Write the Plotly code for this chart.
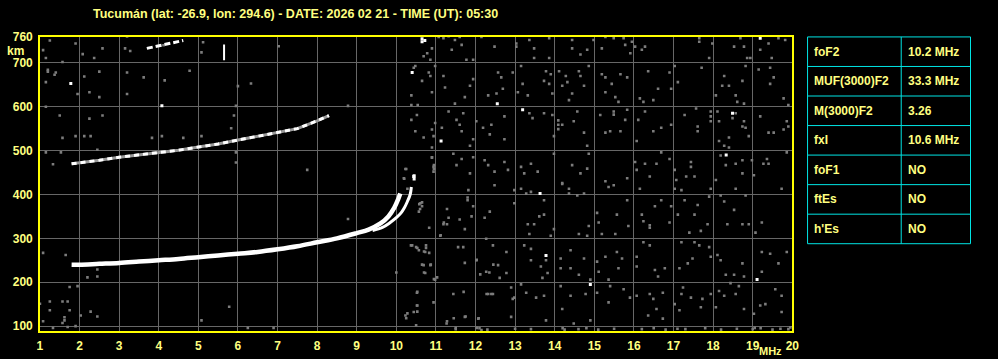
import plotly.graph_objects as go

W, H = 998, 359

title_text = "Tucumán (lat: -26.9, lon: 294.6) - DATE: 2026 02 21 - TIME (UT): 05:30"

x_ticks = list(range(1, 21))
y_ticks = [100, 200, 300, 400, 500, 600, 700, 760]

# O-mode F2 trace
f_o = [1.8, 2.0, 2.5, 3.0, 3.5, 4.0, 4.5, 5.0, 5.5, 6.0, 6.5, 7.0, 7.5, 8.0, 8.5, 9.0, 9.3, 9.6, 9.8, 9.95, 10.05, 10.1]
h_o = [240, 240, 242, 244, 247, 250, 253, 257, 261, 265, 269, 275, 282, 291, 300, 312, 320, 334, 350, 370, 390, 402]
# X-mode trace
f_x = [9.4, 9.65, 9.83, 10.0, 10.12, 10.2, 10.28, 10.35, 10.38]
h_x = [318, 325, 335, 347, 358, 369, 384, 400, 417]
f_x2 = [10.45, 10.45]
h_x2 = [432, 446]
# second hop
f_2 = [1.8, 2.0, 2.5, 3.0, 3.5, 4.0, 4.5, 5.0, 5.5, 6.0, 6.5, 7.0, 7.5, 8.0, 8.3]
h_2 = [470, 472, 478, 485, 490, 496, 501, 508, 515, 524, 533, 541, 550, 568, 580]
# third hop
f_3 = [3.7, 3.9, 4.1, 4.33, 4.62]
h_3 = [733, 737, 741, 745, 751]
# vertical echo
f_v = [5.65, 5.65]
h_v = [706, 742]

# scattered grey noise echoes (freq MHz, height km)
noise = [
    (10.9,733),(10.86,707),(10.69,715),(10.78,722),(11.07,759),(11.19,756),(11.32,761),(11.4,730),(11.48,752),(11.6,759),
    (11.65,741),(11.77,707),(11.94,707),(12.15,759),(12.48,737),(13.03,737),(13.03,744),(13.36,752),(13.48,733),(13.48,711),
    (13.86,756),(13.86,711),(14.44,752),(14.44,733),(14.65,719),(14.82,730),(14.98,752),(15.19,733),(15.28,759),(15.49,756),
    (15.74,756),(15.78,741),(15.91,722),(15.95,748),(16.03,737),(16.28,737),(16.2,730),(17.65,756),(17.65,748),(17.9,711),
    (17.98,744),(18.53,737),(18.69,756),(18.78,737),(18.86,711),(18.94,711),(19.19,730),(19.4,744),(19.48,711),(19.65,756),
    (19.82,752),
    (10.44,689),(10.48,693),(10.82,678),(10.86,670),(10.98,693),(10.65,659),(11.19,670),(11.23,644),(10.38,626),(10.54,604),
    (10.38,604),(10.9,633),(11.48,607),(11.73,622),(11.86,648),(11.94,663),(12.32,626),(12.53,630),(12.57,678),(12.65,667),
    (12.69,641),(12.94,678),(13.07,633),(13.19,652),(13.32,626),(13.15,693),(13.78,681),(13.9,674),(13.86,652),(13.73,659),
    (13.94,630),(14.11,681),(14.28,670),(14.32,656),(14.19,648),(14.44,630),(14.36,615),(14.65,670),(14.61,681),(14.74,648),
    (14.86,693),(15.19,674),(15.28,667),(15.44,652),(15.53,622),(15.66,674),(15.83,667),(15.28,633),(15.61,611),(16.15,619),
    (16.24,611),(16.36,681),(16.49,615),(16.61,641),(16.9,678),(16.94,641),(17.11,656),(17.03,693),(17.71,689),(18.07,626),
    (18.28,670),(18.23,648),(18.4,648),(18.57,626),(18.61,611),(18.74,659),(18.78,607),(18.82,693),(19.15,685),(19.44,689),
    (19.53,667),(19.44,652),(19.78,619),(19.9,604),
    (10.52,581),(10.38,570),(10.48,544),(10.69,530),(10.9,548),(10.94,533),(10.98,563),(11.15,552),(10.9,507),(11.32,589),
    (11.52,570),(11.6,559),(11.65,544),(11.69,585),(11.94,526),(11.86,511),(12.02,567),(12.19,552),(12.4,559),(12.36,537),
    (12.73,578),(12.73,526),(13.36,585),(13.44,574),(13.73,585),(13.94,581),(13.98,533),(14.09,549),(14.09,559),(14.09,569),
    (14.19,559),(14.48,567),(14.57,589),(14.74,541),(14.82,511),(15.15,581),(15.28,541),(15.4,544),(15.49,589),(15.49,582),
    (15.66,544),(15.78,570),(15.83,593),(16.07,522),(16.11,570),(16.28,589),(16.49,544),(16.69,552),(16.94,559),(17.28,581),
    (17.57,596),(17.61,555),(17.61,544),(17.94,589),(17.94,578),(17.94,567),(18.11,589),(18.15,567),(18.15,522),(18.28,511),
    (18.4,530),(18.4,507),(18.57,585),(18.49,574),(18.78,567),(18.74,555),(18.82,552),(18.9,533),(19.19,578),(19.4,541),
    (19.53,541),(19.78,548),(19.86,567),(19.9,555),
    (10.23,458),(10.19,437),(10.9,485),(10.94,463),(10.94,452),(11.44,493),(11.52,467),(11.65,481),(11.86,448),(11.94,485),
    (12.23,478),(12.32,467),(12.48,452),(12.73,474),(12.82,456),(13.15,463),(13.23,448),(13.57,452),(13.4,470),(13.98,493),
    (14.19,426),(14.44,467),(14.65,448),(14.82,459),(14.86,493),(15.28,430),(15.83,437),(16.03,474),(16.07,456),(16.28,470),
    (16.4,441),(16.57,470),(16.69,496),(16.9,481),(17.03,456),(17.07,433),(17.44,474),(17.44,463),(17.32,441),(17.53,441),
    (18.07,433),(18.19,489),(18.32,467),(18.57,470),(18.74,478),(18.74,448),(18.98,478),(19.03,444),(19.27,470),(19.4,470),
    (19.36,481),(19.86,496),
    (10.61,380),(10.65,373),(10.57,361),(11.82,410),(11.8,387),(11.8,393),(11.94,373),(11.9,350),(11.32,347),(11.19,332),
    (11.73,321),(11.6,343),(11.11,306),(12.27,299),(12.23,347),(12.36,361),(12.48,421),(12.98,410),(12.98,380),(13.15,413),
    (13.28,402),(13.4,406),(13.73,387),(13.73,354),(13.61,350),(13.32,332),(13.36,310),(13.48,332),(13.9,306),(13.98,321),
    (14.19,424),(14.36,413),(14.36,402),(14.57,398),(14.74,402),(14.61,310),(14.86,328),(14.82,306),(15.36,417),(15.49,421),
    (15.57,354),(15.07,358),(15.11,336),(15.19,310),(15.53,310),(15.86,328),(15.83,387),(16.15,413),(16.2,354),(16.24,339),
    (16.4,324),(16.4,330),(16.53,373),(16.69,387),(16.9,336),(16.94,373),(17.03,413),(17.2,410),(17.11,354),(17.28,387),
    (17.4,313),(17.53,354),(17.61,376),(17.69,317),(17.86,332),(17.9,395),(17.94,413),(18.19,398),(18.28,384),(18.36,332),
    (18.53,365),(18.57,413),(18.74,332),(18.82,398),(18.9,332),(19.07,313),(19.23,336),(19.73,413),
    (10.4,284),(10.57,273),(10.73,269),(10.86,239),(10.69,239),(10.73,221),(10.98,206),(11.56,280),(11.69,280),(11.73,244),
    (12.02,250),(12.27,224),(12.44,284),(12.57,239),(12.61,210),(12.78,269),(12.78,221),(13.23,284),(13.4,250),(13.4,276),
    (13.78,250),(13.65,236),(13.82,221),(13.69,210),(14.15,254),(14.15,232),(14.4,273),(14.4,232),(14.61,217),(14.74,254),
    (14.9,206),(15.07,247),(15.11,224),(15.28,258),(15.36,206),(15.57,269),(15.61,232),(15.7,254),(16.07,258),(16.07,236),
    (16.24,291),(16.4,284),(16.53,228),(16.78,232),(16.61,213),(17.15,232),(17.2,291),(17.48,254),(17.36,243),(17.53,291),
    (17.65,284),(17.9,280),(17.94,258),(18.11,262),(18.19,250),(18.32,217),(18.53,217),(18.74,243),(18.78,213),(19.23,269),
    (19.23,224),(19.44,265),(19.65,243),(19.86,269),
    (10.52,176),(10.52,147),(10.44,132),(10.23,124),(10.94,154),(11.27,106),(11.44,173),(11.73,121),(12.07,117),(12.32,173),
    (12.44,173),(12.9,188),(12.94,162),(12.9,121),(12.98,165),(13.15,195),(13.28,176),(13.53,165),(13.73,169),(13.78,113),
    (14.15,191),(14.19,139),(14.4,169),(14.48,106),(14.78,173),(14.9,113),(15.07,176),(15.4,191),(15.36,154),(15.74,184),
    (15.9,165),(16.07,169),(16.36,124),(16.4,173),(16.49,162),(16.57,139),(16.73,176),(16.73,117),(17.03,150),(17.15,136),
    (17.2,173),(17.24,188),(17.44,165),(17.69,143),(17.73,162),(17.94,173),(18.07,143),(18.15,180),(18.28,169),(18.44,198),
    (18.57,173),(18.65,191),(18.78,139),(19.03,128),(19.19,147),(19.32,150),(19.57,184),(19.73,169),(19.73,132),
    (11.5,93),(12.1,95),(12.3,92),(13.0,94),(13.4,93),(14.2,95),(14.25,92),(14.6,93),(14.8,95),(15.1,92),(15.5,94),
    (16.2,93),(16.5,95),(16.8,92),(17.1,94),(17.3,93),(17.8,95),(18.2,92),(18.6,94),(19.0,93),(19.05,96),(19.2,95),
    (19.5,92),(19.7,94),(19.9,93),(19.95,97),(12.15,91),(12.03,96),(11.45,118),(11.28,111),(11.5,96),(12.08,118),
    (1.25,751),(1.08,729),(1.15,711),(1.2,684),(1.2,680),(1.37,673),(1.15,656),(1.4,678),(1.57,702),(1.9,744),
    (2.08,720),(2.12,669),(2.25,633),(2.37,711),(2.5,680),(2.58,733),(2.5,622),(1.95,629),(3.2,760),(3.15,733),
    (3.28,727),(3.2,678),(3.2,629),(3.62,667),(4.15,660),(4.12,740),(4.78,682),(5.12,747),(5.08,724),(6.0,647),
    (6.33,653),(5.95,602),(7.03,738),(8.78,602),
    (1.15,600),(1.5,580),(2.25,573),(2.58,580),(1.9,533),(2.12,533),(2.28,533),(1.57,529),(3.83,529),(4.08,533),
    (4.62,529),(5.9,580),(5.83,551),(5.95,496),(5.95,473),(5.08,533),(1.15,496),(1.53,496),(2.45,502),(1.33,469),
    (7.75,456),
    (1.08,267),(1.65,262),(2.45,229),(2.45,213),(2.2,211),(1.75,189),(1.95,191),(2.28,133),(2.45,122),(1.25,156),
    (1.25,136),(1.57,156),(1.7,156),(1.75,136),(1.62,113),(1.57,107),(1.62,120),(1.33,96),(1.7,98),(1.9,100),(2.03,124),
    (1.08,111),(1.0,151),(5.08,113),(5.78,144),(6.25,96),(6.9,96),(10.0,222),(10.25,118),(10.28,129),(10.53,178),
    (10.53,147),(10.5,102),(10.53,133),(10.65,240),(10.7,222),(10.87,240),(10.95,207),(11.03,211),(10.83,267),
    (11.7,178),(11.75,122),(12.12,218),(12.03,251),(12.28,173),(12.4,173),(12.35,222),(12.45,240),
    (8.78,344),(10.25,458),(10.2,436),(10.28,413),(10.9,484),(10.95,467),(10.95,458),(10.58,378),(10.65,382),(10.6,367),
    (11.28,367),(11.2,336),(11.28,332),(10.83,324),(11.12,307),(10.37,284),(10.5,280),(10.53,278),(10.75,284),(10.75,278),
    (10.7,270),
]
noise_f = [p[0] for p in noise]
noise_h = [p[1] for p in noise]

# isolated white echoes
white_pts = [(10.65,748),(10.72,751),(10.4,678),(1.78,653),(4.08,602),(12.55,607),(13.19,593),(11.13,522),
             (10.44,441),(13.63,402),(13.78,261),(14.9,195),(19.11,206),(18.49,585),(18.33,490),(19.19,756),(10.65,755)]
white_f = [p[0] for p in white_pts]
white_h = [p[1] for p in white_pts]

table_labels = ["foF2", "MUF(3000)F2", "M(3000)F2", "fxI", "foF1", "ftEs", "h'Es"]
table_values = ["10.2 MHz", "33.3 MHz", "3.26", "10.6 MHz", "NO", "NO", "NO"]

YEL = "#ffff00"
TXT = "#ffff80"
GRID = "#676767"
NOISE = "#7c7c7c"
FONT = "Liberation Sans"

fig = go.Figure()
fig.add_trace(go.Scatter(x=noise_f, y=noise_h, mode="markers",
                         marker=dict(symbol="square", size=2.6, color=NOISE, line=dict(width=0)),
                         hoverinfo="skip"))
fig.add_trace(go.Scatter(x=white_f, y=white_h, mode="markers",
                         marker=dict(symbol="square", size=3, color="white", line=dict(width=0)),
                         hoverinfo="skip"))
fig.add_trace(go.Scatter(x=f_2, y=h_2, mode="lines", line=dict(color="#9a9a9a", width=3)))
fig.add_trace(go.Scatter(x=f_2, y=h_2, mode="lines", line=dict(color="white", width=3, dash="5px,4px")))
fig.add_trace(go.Scatter(x=f_3, y=h_3, mode="lines", line=dict(color="white", width=3, dash="6px,3px")))
fig.add_trace(go.Scatter(x=f_v, y=h_v, mode="lines", line=dict(color="white", width=2)))
fig.add_trace(go.Scatter(x=f_o, y=h_o, mode="lines", line=dict(color="white", width=4.5, shape="spline")))
fig.add_trace(go.Scatter(x=f_x, y=h_x, mode="lines", line=dict(color="white", width=3, shape="spline")))
fig.add_trace(go.Scatter(x=f_x2, y=h_x2, mode="lines", line=dict(color="white", width=3)))

x0, x1 = 37.3, 797.3
y_top, y_bot = 30.3, 332.7

fig.update_layout(
    width=W, height=H, margin=dict(l=0, r=0, t=0, b=0),
    paper_bgcolor="black", plot_bgcolor="black", showlegend=False,
    font=dict(family=FONT, color=TXT, size=12),
    xaxis=dict(domain=[x0 / W, x1 / W], range=[1, 20], tickvals=x_ticks,
               ticktext=[str(v) for v in x_ticks], showgrid=True, gridcolor=GRID, gridwidth=1,
               showline=True, linecolor=YEL, linewidth=1.5, mirror=True, zeroline=False,
               ticks="", tickfont=dict(family=FONT, size=12, color=TXT, weight="bold"),
               ticklabelstandoff=2),
    yaxis=dict(domain=[1 - y_bot / H, 1 - y_top / H], range=[88, 760], tickvals=y_ticks,
               ticktext=[str(v) for v in y_ticks], showgrid=True, gridcolor=GRID, gridwidth=1,
               showline=True, linecolor=YEL, linewidth=1.5, mirror=True, zeroline=False,
               ticks="", tickfont=dict(family=FONT, size=12, color=TXT, weight="bold"),
               ticklabelstandoff=3),
)

ann = []
ann.append(dict(text=title_text, x=295 / W, y=1 - 7 / H, xref="paper", yref="paper",
                showarrow=False, xanchor="center", yanchor="middle",
                font=dict(family=FONT, size=12.5, color=TXT, weight="bold")))
ann.append(dict(text="km", x=13 / W, y=1 - 45 / H, xref="paper", yref="paper",
                showarrow=False, xanchor="center", yanchor="middle",
                font=dict(family=FONT, size=12, color=TXT, weight="bold")))
ann.append(dict(text="MHz", x=789 / W, y=1 - 352.5 / H, xref="paper", yref="paper",
                showarrow=False, xanchor="right", yanchor="middle",
                font=dict(family=FONT, size=11, color=TXT, weight="bold")))

shapes = []
tx0, tx1, tcol = 812.7, 977.3, 907.3
ty0, row_h = 30.7, 30.3
n = len(table_labels)
CY = "#00e5e5"
shapes.append(dict(type="rect", xref="paper", yref="paper", x0=tx0 / W, x1=tx1 / W,
                   y0=1 - (ty0 + n * row_h) / H, y1=1 - ty0 / H, line=dict(color=CY, width=1)))
shapes.append(dict(type="line", xref="paper", yref="paper", x0=tcol / W, x1=tcol / W,
                   y0=1 - (ty0 + n * row_h) / H, y1=1 - ty0 / H, line=dict(color=CY, width=1)))
for i in range(1, n):
    yy = 1 - (ty0 + i * row_h) / H
    shapes.append(dict(type="line", xref="paper", yref="paper", x0=tx0 / W, x1=tx1 / W,
                       y0=yy, y1=yy, line=dict(color=CY, width=1)))
for i, (lab, val) in enumerate(zip(table_labels, table_values)):
    yc = 1 - (ty0 + (i + 0.5) * row_h) / H
    ann.append(dict(text=lab, x=817.5 / W, y=yc, xref="paper", yref="paper", showarrow=False,
                    xanchor="left", yanchor="middle",
                    font=dict(family=FONT, size=12, color=TXT, weight="bold")))
    ann.append(dict(text=val, x=912.5 / W, y=yc, xref="paper", yref="paper", showarrow=False,
                    xanchor="left", yanchor="middle",
                    font=dict(family=FONT, size=12, color=TXT, weight="bold")))

fig.update_layout(annotations=ann, shapes=shapes)
fig.write_html("out.html")
